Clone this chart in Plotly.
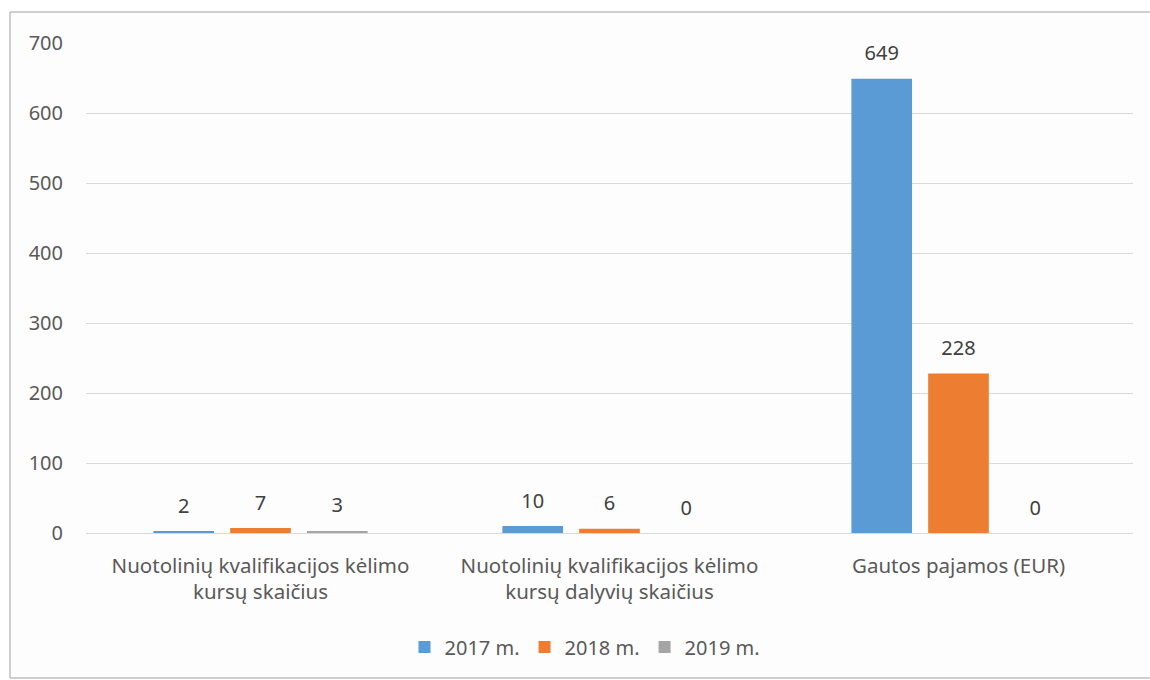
import plotly.graph_objects as go

categories = ["Nuotolinių kvalifikacijos kėlimo<br>kursų skaičius",
              "Nuotolinių kvalifikacijos kėlimo<br>kursų dalyvių skaičius",
              "Gautos pajamos (EUR)"]
series_names = ["2017 m.", "2018 m.", "2019 m."]
values_2017 = [2, 10, 649]
values_2018 = [7, 6, 228]
values_2019 = [3, 0, 0]
colors = ["#5B9BD5", "#ED7D31", "#A5A5A5"]
y_ticks = [0, 100, 200, 300, 400, 500, 600, 700]

FONT = "Noto Sans"
series = [values_2017, values_2018, values_2019]

fig = go.Figure()
for name, vals, col in zip(series_names, series, colors):
    fig.add_trace(go.Bar(x=categories, y=vals, name=name, marker_color=col,
                         marker_line_width=0, offsetgroup=name))
for name, vals, col in zip(series_names, series, colors):
    fig.add_trace(go.Scatter(x=categories, y=vals, mode="markers+text", text=[str(v) for v in vals],
                             textposition="top center", offsetgroup=name,
                             marker=dict(size=20, opacity=0, color=col),
                             textfont=dict(family=FONT, size=20, color="#404040"),
                             showlegend=False, hoverinfo="skip", cliponaxis=False))

# page body margin is removed below, so figure coordinates equal page coordinates
W, H = 1150, 680
ml, mr, mt = 86, 17, 43
plot_bottom = 533
mb = H - plot_bottom
pw, ph = W - ml - mr, H - mt - mb

def px_x(p):
    return (p - ml) / pw

def px_y(p):
    return (H - mb - p) / ph

# chart frame: light fill plus left, top and bottom edges
fig.add_shape(type="rect", xref="paper", yref="paper",
              x0=px_x(10), x1=px_x(1150), y0=px_y(678), y1=px_y(12),
              line=dict(width=0), fillcolor="#FDFDFD", layer="below")
for (xa, ya, xb, yb) in [(10, 12, 1150, 12), (10, 12, 10, 678), (10, 678, 1150, 678)]:
    fig.add_shape(type="line", xref="paper", yref="paper",
                  x0=px_x(xa), y0=px_y(ya), x1=px_x(xb), y1=px_y(yb),
                  line=dict(color="#BFBFBF", width=1.5), layer="below")

fig.update_layout(
    width=W, height=H,
    margin=dict(l=ml, r=mr, t=mt, b=mb),
    paper_bgcolor="#FFFFFF", plot_bgcolor="rgba(0,0,0,0)",
    barmode="group", bargap=0.34, bargroupgap=0.21,
    scattermode="group",
    font=dict(family=FONT, size=20, color="#595959"),
    legend=dict(orientation="h", x=px_x(585), xanchor="center", y=px_y(647), yanchor="middle",
                font=dict(family=FONT, size=20, color="#595959"), itemwidth=30,
                bgcolor="rgba(0,0,0,0)"),
    showlegend=True,
)
fig.update_xaxes(showgrid=False, showline=False, ticks="", zeroline=False,
                 ticklabelstandoff=18,
                 tickfont=dict(family=FONT, size=20.5, color="#595959"))
fig.update_yaxes(range=[0, 700], tickvals=y_ticks, showgrid=True, gridcolor="#D9D9D9", gridwidth=1,
                 zeroline=True, zerolinecolor="#D9D9D9", zerolinewidth=1, showline=False,
                 ticks="", ticklabelstandoff=22,
                 tickfont=dict(family=FONT, size=20, color="#595959"))

fig.write_html("out.html", config={"displayModeBar": False},
               post_script="document.body.style.margin='0';document.body.style.overflow='hidden';")
